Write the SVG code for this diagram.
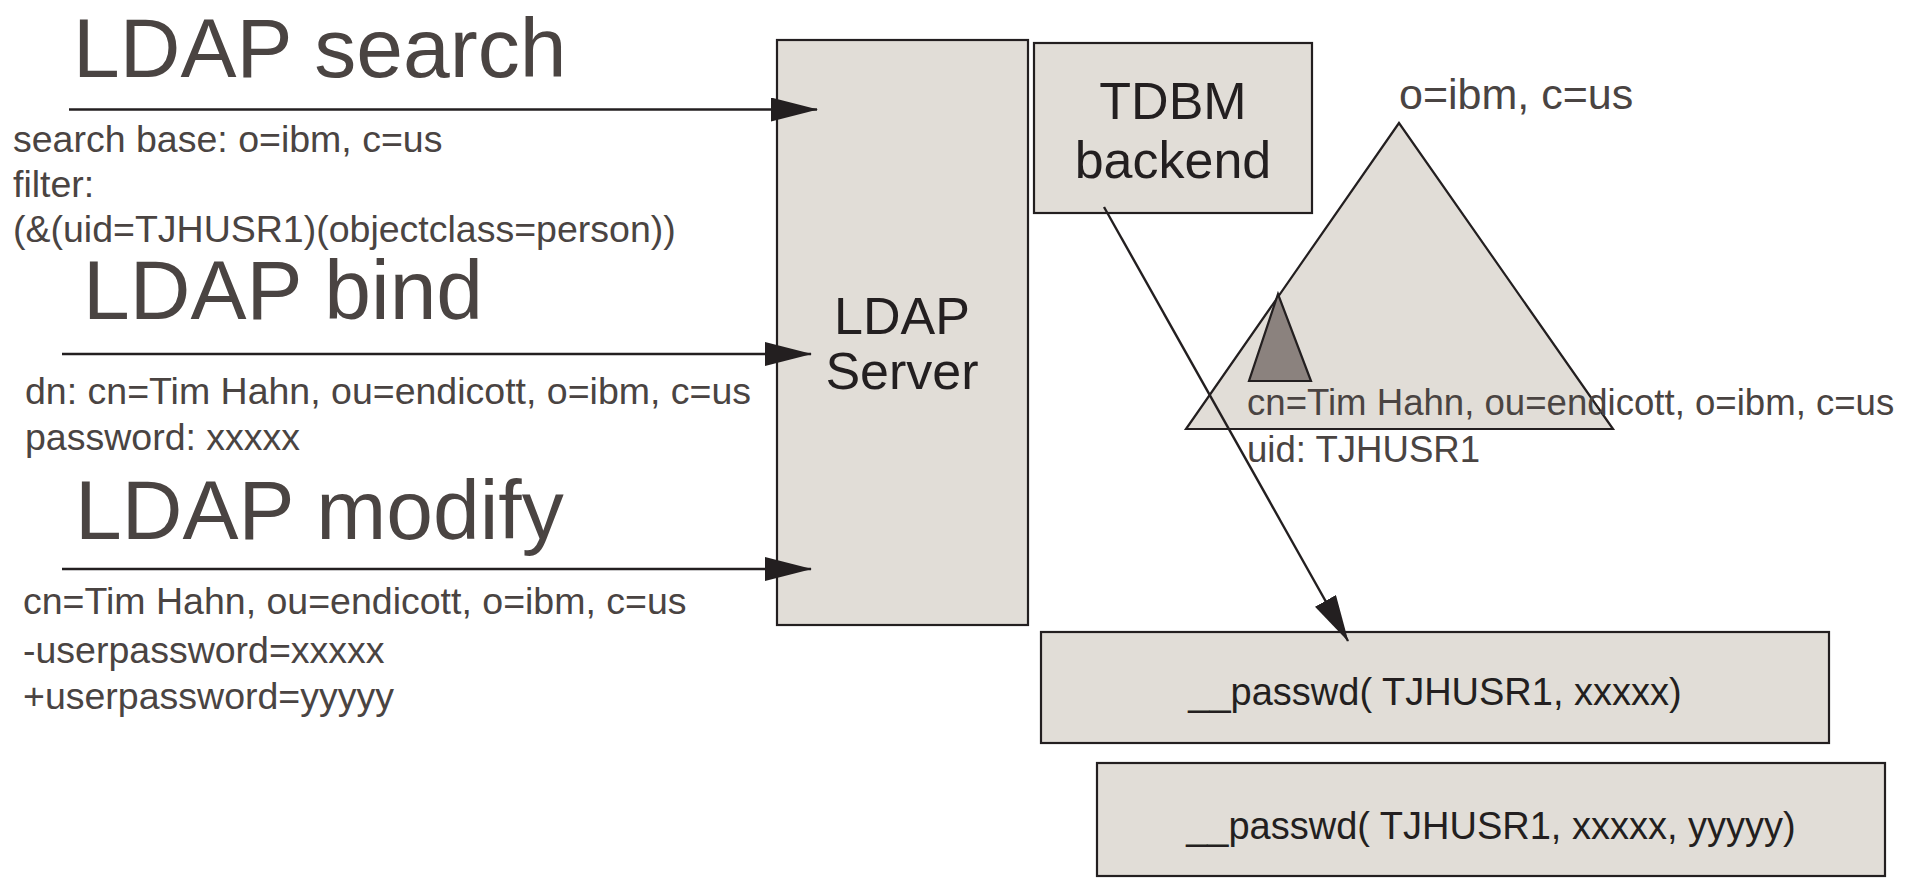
<svg xmlns="http://www.w3.org/2000/svg" width="1907" height="879" viewBox="0 0 1907 879">
  <style>
    .box { fill: #e1ddd7; stroke: #231f20; stroke-width: 2.2; }
    .tri { fill: #e1ddd7; stroke: #231f20; stroke-width: 2.2; }
    .sub { fill: #8b827e; stroke: #231f20; stroke-width: 2.2; }
    .conn { stroke: #231f20; stroke-width: 2.4; fill: none; }
    .title { font-family: "Liberation Sans", Arial, sans-serif; font-size: 84px; fill: #4a4442; }
    .note { font-family: "Liberation Sans", Arial, sans-serif; font-size: 37.5px; fill: #4a4442; }
    .root { font-family: "Liberation Sans", Arial, sans-serif; font-size: 43px; fill: #4a4442; }
    .entry { font-family: "Liberation Sans", Arial, sans-serif; font-size: 36.6px; fill: #4a4442; }
    .label { font-family: "Liberation Sans", Arial, sans-serif; font-size: 52px; fill: #231f20; text-anchor: middle; }
    .fn { font-family: "Liberation Sans", Arial, sans-serif; font-size: 38px; fill: #231f20; text-anchor: middle; }
  </style>
  <defs>
    <marker id="head" markerUnits="userSpaceOnUse" viewBox="0 0 47 24" refX="46" refY="12" markerWidth="47" markerHeight="24" orient="auto">
      <path d="M0,0 L47,12 L0,24 Z" fill="#231f20"/>
    </marker>
  </defs>

  <rect width="1907" height="879" fill="#ffffff"/>

  <!-- client operations -->
  <g id="op-search">
    <text class="title" x="73" y="77">LDAP search</text>
    <text class="note" x="13" y="152">search base: o=ibm, c=us</text>
    <text class="note" x="13" y="197">filter:</text>
    <text class="note" x="13" y="242">(&amp;(uid=TJHUSR1)(objectclass=person))</text>
  </g>
  <g id="op-bind">
    <text class="title" x="83" y="319">LDAP bind</text>
    <text class="note" x="25" y="404">dn: cn=Tim Hahn, ou=endicott, o=ibm, c=us</text>
    <text class="note" x="25" y="450">password: xxxxx</text>
  </g>
  <g id="op-modify">
    <text class="title" x="75" y="539">LDAP modify</text>
    <text class="note" x="23" y="614">cn=Tim Hahn, ou=endicott, o=ibm, c=us</text>
    <text class="note" x="23" y="663">-userpassword=xxxxx</text>
    <text class="note" x="23" y="709">+userpassword=yyyyy</text>
  </g>

  <!-- server side -->
  <g id="ldap-server">
    <rect class="box" x="777" y="40" width="251" height="585"/>
    <text class="label" x="902" y="334">LDAP</text>
    <text class="label" x="902" y="389">Server</text>
  </g>
  <g id="tdbm-backend">
    <rect class="box" x="1034" y="43" width="278" height="170"/>
    <text class="label" x="1173" y="119">TDBM</text>
    <text class="label" x="1173" y="178">backend</text>
  </g>

  <!-- directory tree -->
  <g id="tree">
    <polygon class="tri" points="1399,123 1186,429 1613,429"/>
    <polygon class="sub" points="1278,294 1249,381 1311,381"/>
    <text class="root" x="1399" y="109">o=ibm, c=us</text>
    <text class="entry" x="1247" y="415">cn=Tim Hahn, ou=endicott, o=ibm, c=us</text>
    <text class="entry" x="1247" y="462">uid: TJHUSR1</text>
  </g>

  <!-- system calls -->
  <g id="passwd-verify">
    <rect class="box" x="1041" y="632" width="788" height="111"/>
    <text class="fn" x="1435" y="705">__passwd( TJHUSR1, xxxxx)</text>
  </g>
  <g id="passwd-change">
    <rect class="box" x="1097" y="763" width="788" height="113"/>
    <text class="fn" x="1491" y="839">__passwd( TJHUSR1, xxxxx, yyyyy)</text>
  </g>

  <!-- connectors -->
  <g id="connectors">
    <line class="conn" x1="69" y1="109.5" x2="817" y2="109.5" marker-end="url(#head)"/>
    <line class="conn" x1="62" y1="354" x2="811" y2="354" marker-end="url(#head)"/>
    <line class="conn" x1="62" y1="569" x2="811" y2="569" marker-end="url(#head)"/>
    <line class="conn" x1="1104" y1="207" x2="1348" y2="641" marker-end="url(#head)"/>
  </g>
</svg>
